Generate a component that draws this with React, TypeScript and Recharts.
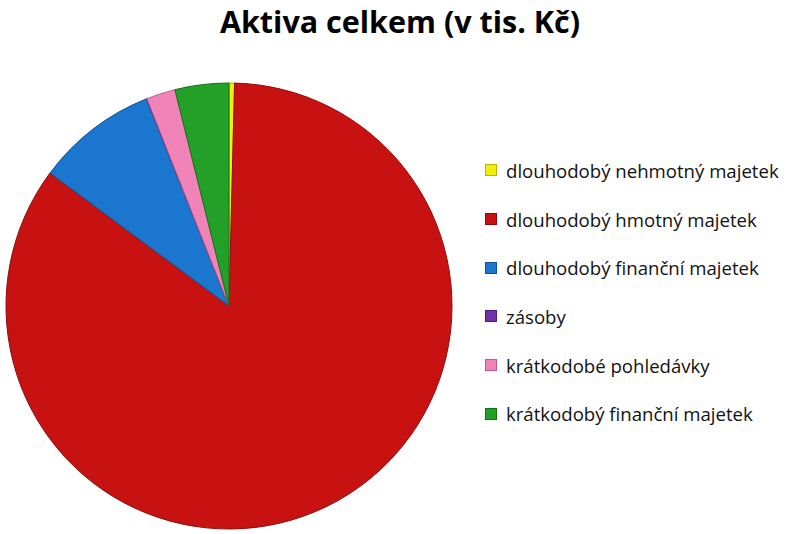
import { PieChart, Pie, Cell, Legend } from "recharts";

const categories = [
  "dlouhodobý nehmotný majetek",
  "dlouhodobý hmotný majetek",
  "dlouhodobý finanční majetek",
  "zásoby",
  "krátkodobé pohledávky",
  "krátkodobý finanční majetek",
];

// v tis. Kč (odhad z obrázku)
const values = [1200, 254400, 26400, 100, 6300, 11700];

const colors = ["#f0ee0c", "#c81212", "#1a76cf", "#7032a6", "#f084b8", "#22a028"];
const edgeColors = ["#b8b400", "#8e0b0b", "#0f5296", "#4d2075", "#c05a8c", "#157018"];

const data = categories.map((name, i) => ({ name, value: values[i] }));

const LegendList = () => (
  <div style={{ fontFamily: "'Open Sans', sans-serif", fontSize: 18.6, color: "#111" }}>
    {categories.map((name, i) => (
      <div key={name} style={{ display: "flex", alignItems: "center", height: 48.7 }}>
        <span
          style={{
            display: "inline-block",
            width: 10,
            height: 10,
            background: colors[i],
            border: `1px solid ${edgeColors[i]}`,
            marginRight: 9,
          }}
        />
        <span>{name}</span>
      </div>
    ))}
  </div>
);

const App = () => {
  return (
    <div style={{ position: "absolute", left: 0, top: 0, width: 800, height: 534, background: "#fff" }}>
      <PieChart width={800} height={534} margin={{ top: 0, right: 0, bottom: 0, left: 0 }}>
        <Pie
          data={data}
          dataKey="value"
          nameKey="name"
          cx={229}
          cy={306}
          outerRadius={223}
          startAngle={90}
          endAngle={-270}
          isAnimationActive={false}
          strokeWidth={1}
        >
          {data.map((d, i) => (
            <Cell key={d.name} fill={colors[i]} stroke={edgeColors[i]} />
          ))}
        </Pie>
        <Legend
          layout="vertical"
          align="right"
          verticalAlign="top"
          wrapperStyle={{ left: 485, top: 146, width: 315 }}
          content={() => <LegendList />}
        />
      </PieChart>
      <div
        style={{
          position: "absolute",
          left: 0,
          top: 0,
          width: 800,
          textAlign: "center",
          fontFamily: "'Open Sans', sans-serif",
          fontWeight: "bold",
          fontSize: 30.5,
          lineHeight: "normal",
          color: "#000",
        }}
      >
        Aktiva celkem (v tis. Kč)
      </div>
    </div>
  );
};

export default App;
